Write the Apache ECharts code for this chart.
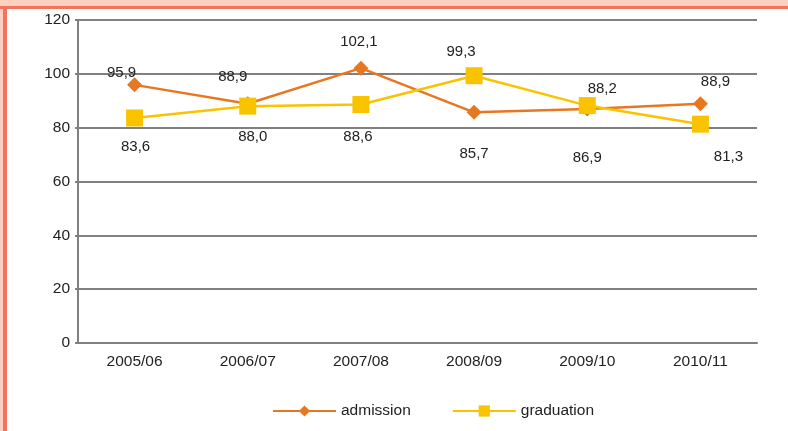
<!DOCTYPE html>
<html>
<head>
<meta charset="utf-8">
<script src="https://cdn.jsdelivr.net/npm/echarts@6/dist/echarts.min.js"></script>
<style>
  html, body { margin: 0; padding: 0; background: #fff; }
  #chart { width: 788px; height: 431px; }
</style>
</head>
<body>
<div id="chart"></div>
<script>
  // data
  var categories = ['2005/06', '2006/07', '2007/08', '2008/09', '2009/10', '2010/11'];
  var admission = [95.9, 88.9, 102.1, 85.7, 86.9, 88.9];
  var graduation = [83.6, 88.0, 88.6, 99.3, 88.2, 81.3];
  var yTicks = [0, 20, 40, 60, 80, 100, 120];

  // where each value label sits, relative to its marker
  var admissionLabelOffset = [[-13, -12], [-15, -27], [-2, -26], [0, 42], [0, 49], [15, -22]];
  var graduationLabelOffset = [[1, 29], [5, 31], [-3, 32], [-13, -24], [15, -17], [28, 33]];

  function withLabels(values, offsets) {
    return values.map(function (v, i) {
      return {
        value: v,
        label: { offset: offsets[i] }
      };
    });
  }

  var chart = echarts.init(document.getElementById('chart'));
  var font = 'Liberation Sans, Arial, sans-serif';
  var labelStyle = {
    show: true,
    position: 'inside',
    color: '#222',
    fontSize: 15,
    fontFamily: font,
    formatter: function (p) {
      return p.value.toFixed(1).replace('.', ',');
    }
  };

  var option = {
    animation: false,
    backgroundColor: '#fff',
    graphic: [
      { type: 'rect', shape: { x: 0, y: 0, width: 788, height: 6 }, style: { fill: '#fbd0c1' } },
      { type: 'rect', shape: { x: 0, y: 0, width: 3, height: 431 }, style: { fill: '#fbd0c1' } },
      { type: 'rect', shape: { x: 0, y: 6, width: 788, height: 3 }, style: { fill: '#f4735f' } },
      { type: 'rect', shape: { x: 3, y: 6, width: 4, height: 425 }, style: { fill: '#f4735f' } }
    ],
    grid: { left: 78, right: 31, top: 20, bottom: 88, containLabel: false },
    legend: {
      bottom: 7,
      left: 267,
      itemWidth: 63,
      itemHeight: 14,
      itemGap: 41,
      textStyle: { color: '#222', fontSize: 15.5, fontFamily: font },
      data: ['admission', 'graduation']
    },
    xAxis: {
      type: 'category',
      data: categories,
      boundaryGap: true,
      axisLine: { lineStyle: { color: '#808080', width: 2 } },
      axisTick: { show: false },
      axisLabel: { color: '#222', fontSize: 15.5, margin: 11, fontFamily: font }
    },
    yAxis: {
      type: 'value',
      min: yTicks[0],
      max: yTicks[yTicks.length - 1],
      interval: 20,
      axisLine: { show: true, lineStyle: { color: '#808080', width: 2 } },
      axisTick: { show: true, length: 3, lineStyle: { color: '#808080', width: 2 } },
      axisLabel: { color: '#222', fontSize: 15.5, margin: 8, fontFamily: font },
      splitLine: { lineStyle: { color: '#808080', width: 2 } }
    },
    series: [
      {
        name: 'admission',
        type: 'line',
        data: withLabels(admission, admissionLabelOffset),
        symbol: 'diamond',
        symbolSize: 15,
        color: '#e87722',
        lineStyle: { color: '#e87722', width: 2.5 },
        itemStyle: { color: '#e87722' },
        label: labelStyle,
        z: 3
      },
      {
        name: 'graduation',
        type: 'line',
        data: withLabels(graduation, graduationLabelOffset),
        symbol: 'rect',
        symbolSize: 17,
        color: '#f9c300',
        lineStyle: { color: '#f9c300', width: 2.5 },
        itemStyle: { color: '#f9c300' },
        label: labelStyle,
        z: 4
      }
    ]
  };
  chart.setOption(option);
</script>
</body>
</html>
